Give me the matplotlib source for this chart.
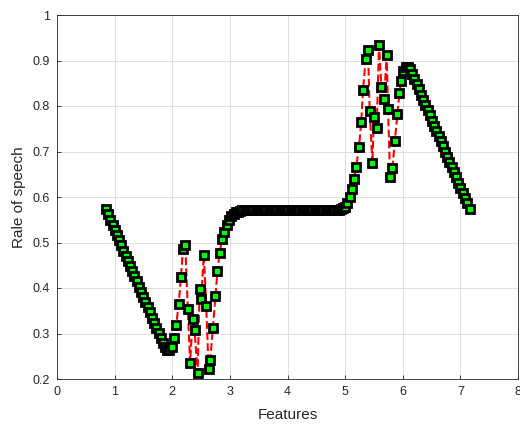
import matplotlib.pyplot as plt

# falling branch on the left
x_fall = [0.850, 0.888, 0.926, 0.964, 1.002, 1.040, 1.078, 1.116, 1.154, 1.192,
          1.230, 1.268, 1.306, 1.344, 1.382, 1.420, 1.458, 1.496, 1.534, 1.572,
          1.610, 1.648, 1.686, 1.724, 1.762, 1.800, 1.838, 1.876, 1.914, 1.952]
y_fall = [0.573, 0.562, 0.550, 0.539, 0.528, 0.516, 0.505, 0.494, 0.482, 0.471,
          0.460, 0.448, 0.437, 0.426, 0.415, 0.403, 0.392, 0.381, 0.369, 0.358,
          0.347, 0.335, 0.324, 0.313, 0.301, 0.290, 0.280, 0.270, 0.263, 0.264]

# noisy part around x = 2..3
x_noise1 = [1.995, 2.035, 2.070, 2.110, 2.151, 2.186, 2.226, 2.270, 2.310, 2.353,
            2.388, 2.440, 2.475, 2.500, 2.548, 2.590, 2.630, 2.660, 2.705, 2.748,
            2.785, 2.823, 2.864, 2.904, 2.951]
y_noise1 = [0.270, 0.290, 0.319, 0.364, 0.424, 0.485, 0.495, 0.353, 0.236, 0.332,
            0.307, 0.213, 0.397, 0.375, 0.473, 0.360, 0.222, 0.242, 0.313, 0.382,
            0.438, 0.478, 0.507, 0.522, 0.538]

# flat part
x_flat = [2.989, 3.027, 3.065, 3.103, 3.141, 3.179, 3.217, 3.255, 3.293, 3.331,
          3.369, 3.407, 3.445, 3.483, 3.521, 3.559, 3.597, 3.635, 3.673, 3.711,
          3.749, 3.787, 3.825, 3.863, 3.901, 3.939, 3.977, 4.015, 4.053, 4.091,
          4.129, 4.167, 4.205, 4.243, 4.281, 4.319, 4.357, 4.395, 4.433, 4.471,
          4.509, 4.547, 4.585, 4.623, 4.661, 4.699, 4.737, 4.775, 4.813, 4.851,
          4.889, 4.927, 4.965, 5.003, 5.041, 5.079, 5.117, 5.155, 5.193]
y_flat = [0.550, 0.558, 0.563, 0.566, 0.568, 0.570, 0.571, 0.572, 0.572, 0.572,
          0.572, 0.572, 0.572, 0.572, 0.572, 0.572, 0.572, 0.572, 0.572, 0.572,
          0.572, 0.572, 0.572, 0.572, 0.572, 0.572, 0.572, 0.572, 0.572, 0.572,
          0.572, 0.572, 0.572, 0.572, 0.572, 0.572, 0.572, 0.572, 0.572, 0.572,
          0.572, 0.572, 0.572, 0.572, 0.572, 0.572, 0.572, 0.572, 0.572, 0.572,
          0.572, 0.573, 0.575, 0.579, 0.586, 0.599, 0.618, 0.640, 0.667]

# noisy part around x = 5..6
x_noise2 = [5.240, 5.280, 5.310, 5.357, 5.397, 5.426, 5.473, 5.500, 5.548, 5.588,
            5.630, 5.675, 5.722, 5.745, 5.780, 5.821, 5.861, 5.908, 5.940, 5.975]
y_noise2 = [0.709, 0.765, 0.835, 0.903, 0.923, 0.790, 0.674, 0.775, 0.751, 0.934,
            0.841, 0.815, 0.911, 0.793, 0.645, 0.663, 0.722, 0.782, 0.828, 0.856]

# peak and falling branch on the right
x_right = [6.013, 6.051, 6.089, 6.127, 6.165, 6.203, 6.241, 6.279, 6.317, 6.355,
           6.393, 6.431, 6.469, 6.507, 6.545, 6.583, 6.621, 6.659, 6.697, 6.735,
           6.773, 6.811, 6.849, 6.887, 6.925, 6.963, 7.001, 7.039, 7.077, 7.115,
           7.160]
y_right = [0.876, 0.885, 0.886, 0.881, 0.871, 0.860, 0.848, 0.837, 0.825, 0.814,
           0.802, 0.791, 0.780, 0.768, 0.757, 0.745, 0.734, 0.723, 0.711, 0.700,
           0.688, 0.677, 0.665, 0.654, 0.643, 0.631, 0.620, 0.608, 0.597, 0.586,
           0.573]

x = x_fall + x_noise1 + x_flat + x_noise2 + x_right
y = y_fall + y_noise1 + y_flat + y_noise2 + y_right

plt.rcParams['font.family'] = ['Liberation Sans', 'DejaVu Sans']

fig = plt.figure(figsize=(5.2, 4.24), dpi=100)
ax = fig.add_axes([57 / 520, 45 / 424, 461 / 520, 364 / 424])

ax.plot(x, y, 'r--', linewidth=1.5, marker='s', markersize=6.3,
        markerfacecolor=(0, 1, 0), markeredgecolor='k', markeredgewidth=2)

ax.set_xlim(0, 8)
ax.set_ylim(0.2, 1)
ax.set_xticks(range(0, 9))
ax.set_yticks([0.2, 0.3, 0.4, 0.5, 0.6, 0.7, 0.8, 0.9, 1.0])
ax.set_yticklabels(['0.2', '0.3', '0.4', '0.5', '0.6', '0.7', '0.8', '0.9', '1'])
ax.grid(True, color='#dedede', linewidth=0.7)
ax.set_axisbelow(True)
ax.tick_params(direction='in', length=3, width=0.6, colors='#262626',
               labelsize=9, pad=5)
for s in ax.spines.values():
    s.set_color('#262626')
    s.set_linewidth(0.6)

ax.set_xlabel('Features', fontsize=11, color='#262626', labelpad=7)
ax.set_ylabel('Rale of speech', fontsize=11, color='#262626', labelpad=5)

fig.savefig('out.png', dpi=100)
